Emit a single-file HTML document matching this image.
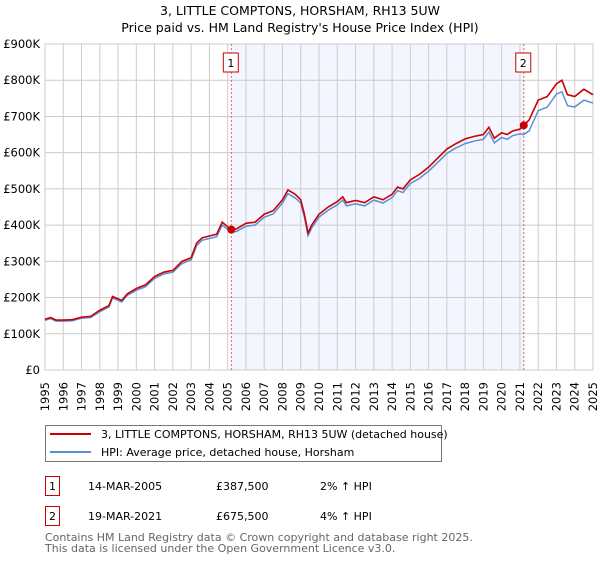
<!DOCTYPE html>
<html><head><meta charset="utf-8"><style>
body{margin:0;background:#fff;font-family:"Liberation Sans","DejaVu Sans",sans-serif}
</style></head><body>
<svg width="600" height="560" xmlns="http://www.w3.org/2000/svg" font-family="DejaVu Sans, Liberation Sans, sans-serif">
<text x="300" y="15" text-anchor="middle" font-size="12.5" fill="#000">3, LITTLE COMPTONS, HORSHAM, RH13 5UW</text>
<text x="300" y="32" text-anchor="middle" font-size="12.5" fill="#000">Price paid vs. HM Land Registry's House Price Index (HPI)</text>
<g id="plot"></g>
<g>
<rect x="45.5" y="425.5" width="396" height="36" fill="#fff" stroke="#777"/>
<line x1="50" y1="434" x2="91" y2="434" stroke="#cc0000" stroke-width="2"/>
<text x="101" y="438" font-size="11">3, LITTLE COMPTONS, HORSHAM, RH13 5UW (detached house)</text>
<line x1="50" y1="452" x2="91" y2="452" stroke="#5b8fd6" stroke-width="2"/>
<text x="101" y="456" font-size="11">HPI: Average price, detached house, Horsham</text>
</g>
<g font-size="11">
<rect x="45.5" y="476.5" width="14" height="19" fill="#fff" stroke="#cc0000"/><text x="52.5" y="490" text-anchor="middle">1</text>
<text x="88" y="490">14-MAR-2005</text><text x="216" y="490">£387,500</text><text x="320" y="490">2% ↑ HPI</text>
<rect x="45.5" y="506.5" width="14" height="19" fill="#fff" stroke="#cc0000"/><text x="52.5" y="520" text-anchor="middle">2</text>
<text x="88" y="520">19-MAR-2021</text><text x="216" y="520">£675,500</text><text x="320" y="520">4% ↑ HPI</text>
</g>
<g font-size="11" fill="#666">
<text x="45" y="541">Contains HM Land Registry data © Crown copyright and database right 2025.</text>
<text x="45" y="552">This data is licensed under the Open Government Licence v3.0.</text>
</g>
</svg>
<script>
const dates=[1995,1995.3,1995.6,1996,1996.5,1997,1997.5,1998,1998.5,1998.7,1999.2,1999.5,2000,2000.5,2001,2001.5,2002,2002.5,2003,2003.3,2003.6,2004,2004.4,2004.7,2005.2,2005.5,2006,2006.5,2007,2007.5,2008,2008.3,2008.7,2009,2009.2,2009.4,2009.6,2010,2010.5,2011,2011.3,2011.5,2012,2012.5,2013,2013.5,2014,2014.3,2014.6,2015,2015.5,2016,2016.5,2017,2017.5,2018,2018.5,2019,2019.3,2019.6,2020,2020.3,2020.6,2021,2021.2,2021.5,2022,2022.5,2023,2023.3,2023.6,2024,2024.5,2025];
const priceK=[140,145,138,138,139,146,148,165,178,203,192,210,225,235,258,270,275,300,310,350,365,370,375,408,387,390,405,408,430,440,470,497,485,470,430,378,400,430,450,465,478,462,468,462,478,470,485,505,500,525,540,560,585,610,625,638,645,650,670,640,655,650,660,665,675,690,745,755,790,800,760,755,775,760];
const hpiK=[137,142,135,135,136,143,145,161,174,199,188,206,220,230,253,265,270,294,304,343,358,363,368,400,380,383,397,400,422,431,461,487,475,461,422,371,392,422,441,456,469,453,459,453,469,461,476,495,490,515,529,549,573,598,613,625,632,637,657,627,642,637,647,652,650,660,716,726,762,768,730,726,745,737];
const saleDates=[2005.2,2021.21];
const saleValues=[387.5,675.5];
const saleLabels=["1","2"];
const yTicks=[0,100,200,300,400,500,600,700,800,900];
const yTickLabels=["£0","£100K","£200K","£300K","£400K","£500K","£600K","£700K","£800K","£900K"];
const xYears=[1995,1996,1997,1998,1999,2000,2001,2002,2003,2004,2005,2006,2007,2008,2009,2010,2011,2012,2013,2014,2015,2016,2017,2018,2019,2020,2021,2022,2023,2024,2025];

const L=45,R=593,T=44,B=370;
const x=v=>L+(v-1995)/30*(R-L);
const y=v=>B-v/900*(B-T);
const NS="http://www.w3.org/2000/svg";
const g=document.getElementById('plot');
function mk(tag,attrs,parent){const e=document.createElementNS(NS,tag);for(const k in attrs)e.setAttribute(k,attrs[k]);(parent||g).appendChild(e);return e;}

const shade=mk('rect',{x:x(saleDates[0]),y:T,width:x(saleDates[1])-x(saleDates[0]),height:B-T,fill:'#f3f6fe'});


xYears.forEach(v=>{const l=mk('line',{x1:x(v),x2:x(v),y1:T,y2:B,stroke:'#ccc','stroke-width':1});


const t=mk('text',{x:0,y:0,'font-size':11.5,'text-anchor':'end',transform:`translate(${x(v)+4},382) rotate(-90)`});t.textContent=v;

});
yTicks.forEach((v,i)=>{const l=mk('line',{x1:L,x2:R,y1:y(v),y2:y(v),stroke:'#ccc','stroke-width':1});


const t=mk('text',{x:L-5,y:y(v)+4,'font-size':11.5,'text-anchor':'end'});t.textContent=yTickLabels[i];

});
mk('rect',{x:L,y:T,width:R-L,height:B-T,fill:'none',stroke:'#ccc'});
saleDates.forEach((d,i)=>{const l=mk('line',{x1:x(d),x2:x(d),y1:T,y2:B,stroke:'#e06060','stroke-dasharray':'2,2'});


const r=mk('rect',{x:x(d)-8,y:53,width:15,height:19,fill:'#fff',stroke:'#cc0000'});


const t=mk('text',{x:x(d)-0.5,y:67,'font-size':11,'text-anchor':'middle'});t.textContent=saleLabels[i];

});
const hp=mk('polyline',{points:dates.map((d,i)=>x(d)+','+y(hpiK[i])).join(' '),fill:'none',stroke:'#5b8fd6','stroke-width':1.5});


const pp=mk('polyline',{points:dates.map((d,i)=>x(d)+','+y(priceK[i])).join(' '),fill:'none',stroke:'#cc0000','stroke-width':1.6});


saleDates.forEach((d,i)=>{const c=mk('circle',{cx:x(d),cy:y(saleValues[i]),r:4,fill:'#cc0000'});

});
</script>
</body></html>
